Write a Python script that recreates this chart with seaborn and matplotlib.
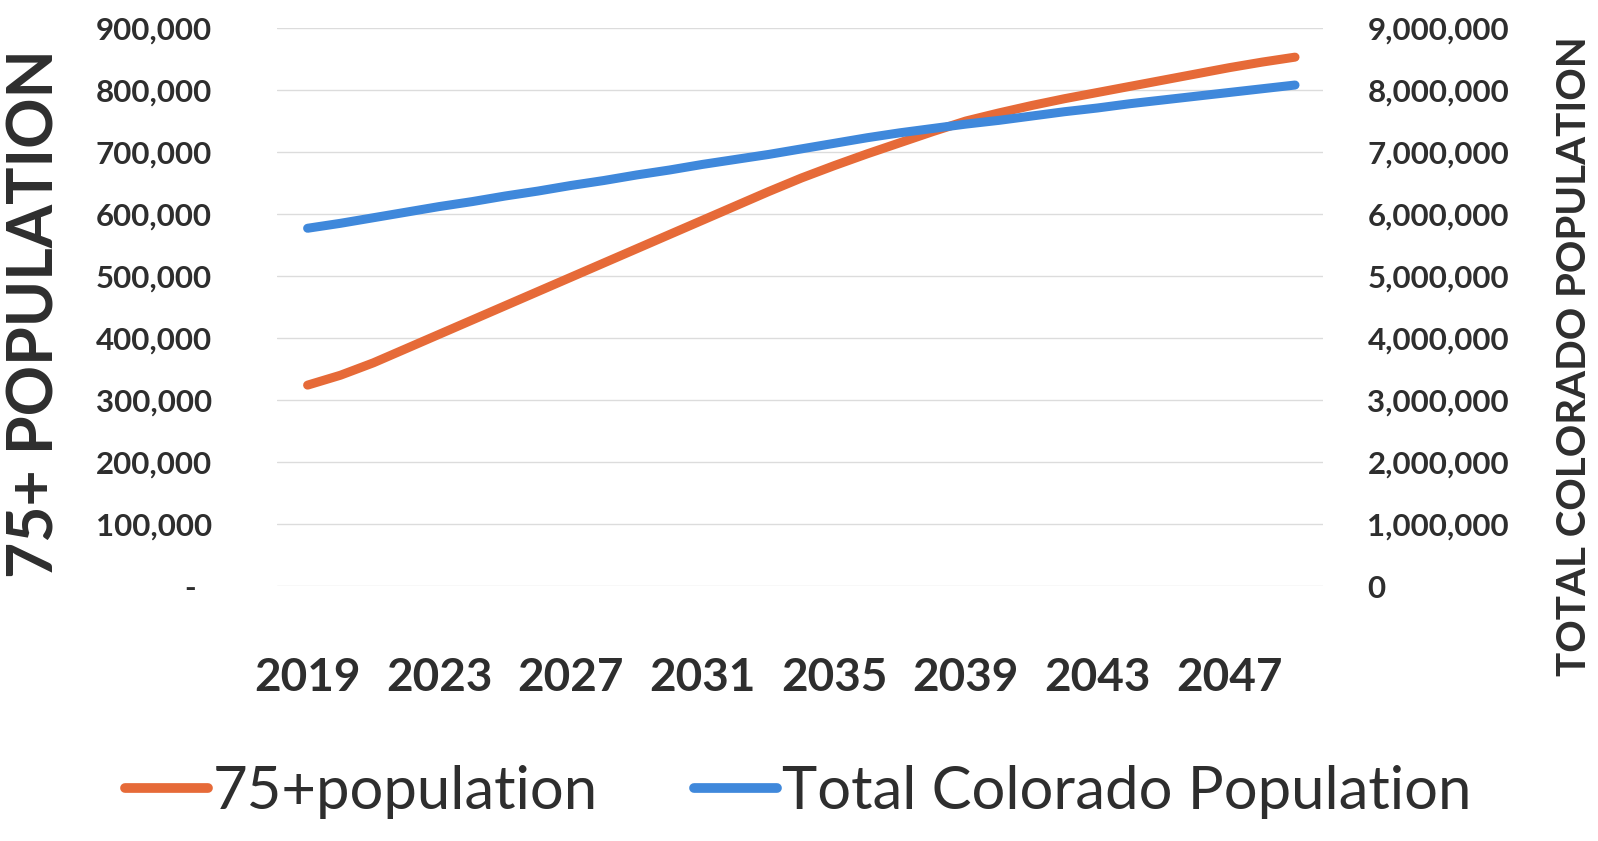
import matplotlib
matplotlib.use("Agg")
import matplotlib.pyplot as plt
import matplotlib.ticker as mticker
import pandas as pd
import seaborn as sns

# =====================================
# Data
# =====================================
years = list(range(2019, 2050))

pop_75_plus = [
    324000, 340000, 360000, 383000, 406000, 429000, 452000, 475000,
    498000, 521000, 544000, 567000, 590000, 613000, 636000, 658000,
    678000, 697000, 715000, 733000, 750000, 763000, 775000, 786000,
    796000, 806000, 816000, 826000, 836000, 845000, 853000,
]

pop_total = [
    5770000, 5850000, 5940000, 6030000, 6120000, 6200000, 6290000, 6370000,
    6460000, 6540000, 6630000, 6710000, 6800000, 6880000, 6960000, 7050000,
    7140000, 7230000, 7310000, 7380000, 7450000, 7510000, 7580000, 7650000,
    7710000, 7780000, 7840000, 7900000, 7960000, 8020000, 8080000,
]

label_years = years[::4][:8]
left_ticks = list(range(0, 900001, 100000))
right_ticks = list(range(0, 9000001, 1000000))

series_names = ["75+population", "Total Colorado Population"]
colors = ["#E66A38", "#3F88DB"]
text_color = "#2E2E2E"

df = pd.DataFrame({"year": years, "p75": pop_75_plus, "total": pop_total})

# =====================================
# Figure
# =====================================
sns.set_theme(style="white")
plt.rcParams["font.family"] = ["Lato", "DejaVu Sans"]

fig = plt.figure(figsize=(15.98, 8.41), dpi=100)
ax = fig.add_axes([277 / 1598, 1 - 586 / 841, (1323 - 277) / 1598, (586 - 28) / 841])
ax2 = ax.twinx()

sns.lineplot(data=df, x="year", y="p75", ax=ax, color=colors[0],
             linewidth=6.5, solid_capstyle="round", label=series_names[0],
             legend=False)
sns.lineplot(data=df, x="year", y="total", ax=ax2, color=colors[1],
             linewidth=6.5, solid_capstyle="round", label=series_names[1],
             legend=False)

ax.set_xlim(2019 - 0.93, 2049 + 0.85)
ax.set_ylim(0, 900000)
ax2.set_ylim(0, 9000000)

ax.set_yticks(left_ticks)
ax2.set_yticks(right_ticks)
ax.set_xticks(label_years)
ax.set_xticklabels([str(y) for y in label_years])

ax.yaxis.set_major_formatter(
    mticker.FuncFormatter(lambda v, p: "-  " if v == 0 else f"{int(v):,}"))
ax2.yaxis.set_major_formatter(
    mticker.FuncFormatter(lambda v, p: f"{int(v):,}"))

ax.grid(axis="y", color="#DCDCDC", linewidth=1.0)
ax.grid(axis="x", visible=False)
ax2.grid(False)
ax.set_zorder(ax2.get_zorder() - 1)
ax.patch.set_visible(False)

for a in (ax, ax2):
    for s in a.spines.values():
        s.set_visible(False)
    a.set_xlabel("")
    a.set_ylabel("")

ax.tick_params(axis="y", length=0, pad=47, labelsize=22.5, labelcolor=text_color)
ax2.tick_params(axis="y", length=0, pad=32, labelsize=22.5, labelcolor=text_color)
ax.tick_params(axis="x", length=0, pad=51, labelsize=33, labelcolor=text_color)
for lab in ax.get_yticklabels() + ax2.get_yticklabels() + ax.get_xticklabels():
    lab.set_fontweight("bold")

fig.text(36 / 1598, 1 - 314 / 841, "75+ POPULATION", rotation=90,
         ha="center", va="center", fontsize=45, fontweight="bold",
         color=text_color)
fig.text(1574 / 1598, 1 - 356 / 841, "TOTAL COLORADO POPULATION", rotation=90,
         ha="center", va="center", fontsize=29, fontweight="bold",
         color=text_color)

handles = ax.get_lines()[:1] + ax2.get_lines()[:1]
leg = fig.legend(handles, series_names, loc="center",
                 bbox_to_anchor=(798 / 1598, 1 - 792 / 841), ncol=2,
                 frameon=False, fontsize=43, handlelength=1.4,
                 handletextpad=0.08, columnspacing=1.6)
for t in leg.get_texts():
    t.set_color(text_color)
    t.set_fontweight("normal")
for h in leg.legend_handles:
    h.set_linewidth(7)

fig.savefig("out.png", dpi=100)
plt.close(fig)
